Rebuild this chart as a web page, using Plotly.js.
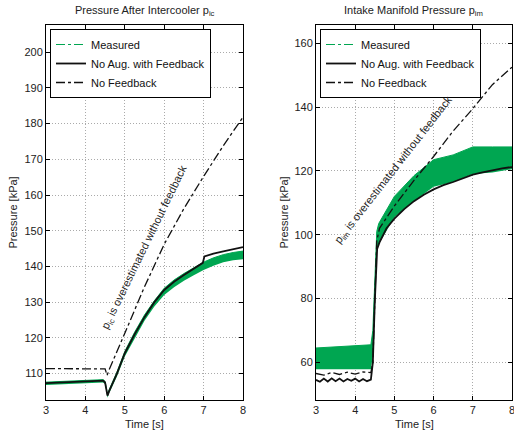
<!DOCTYPE html>
<html><head><meta charset="utf-8">
<script src="https://cdn.plot.ly/plotly-3.0.1.min.js"></script>
<style>html,body{margin:0;padding:0;background:#fff}#chart{width:514px;height:435px}</style>
</head><body><div id="chart"></div>
<script>
// ---- Left panel: pressure after intercooler p_ic [kPa] ----
const icMeasTime = [3, 3.5, 4, 4.45, 4.5, 4.53, 4.56, 4.6, 4.7, 4.8, 5, 5.25, 5.5, 5.75, 6, 6.25, 6.5, 6.75, 7, 7.25, 7.5, 7.75, 8];
const icMeasLow  = [106.8, 107.1, 107.3, 107.5, 107.0, 105.0, 103.2, 104.4, 106.8, 109.2, 114.8, 120.0, 124.8, 128.8, 132.0, 134.2, 136.0, 137.5, 139.0, 140.2, 141.2, 141.7, 142.0];
const icMeasHigh = [107.6, 107.9, 108.1, 108.3, 107.8, 105.8, 104.2, 105.4, 107.8, 110.4, 116.2, 121.6, 126.4, 130.4, 133.9, 136.2, 138.0, 139.6, 141.2, 142.4, 143.3, 143.9, 144.3];

const icFbTime = [3, 3.5, 4, 4.45, 4.5, 4.53, 4.56, 4.6, 4.7, 4.8, 5, 5.25, 5.5, 5.75, 6, 6.25, 6.5, 6.75, 6.98, 7.02, 7.25, 7.5, 7.75, 8];
const icFb     = [107.3, 107.6, 107.8, 108.0, 107.5, 105.5, 103.8, 105.0, 107.5, 110.0, 115.7, 121.0, 125.8, 130.0, 133.4, 135.7, 137.6, 139.4, 141.0, 142.8, 143.6, 144.2, 144.8, 145.4];

const icNfTime = [3, 4.5, 4.55, 4.6, 5, 5.5, 6, 6.5, 7, 7.5, 8];
const icNf     = [111.4, 111.3, 109.5, 111.0, 121.3, 134.3, 146.2, 156.2, 165.2, 173.8, 181.8];

// ---- Right panel: intake manifold pressure p_im [kPa] ----
const imMeasTime = [3, 4.4, 4.45, 4.5, 4.55, 4.6, 5, 5.5, 6, 6.5, 7, 7.5, 8];
const imMeasLow  = [57.8, 57.8, 62, 80, 95, 97, 105.5, 110.5, 115, 116.5, 119, 119.5, 120.5];
const imMeasHigh = [64.5, 65.5, 70, 86, 101, 103.5, 112, 118.5, 123.5, 125, 127.5, 127.5, 127.5];

const imFbTime = [3, 3.1, 3.2, 3.3, 3.4, 3.5, 3.6, 3.7, 3.8, 3.9, 4.0, 4.1, 4.2, 4.3, 4.4, 4.45, 4.5, 4.56, 4.62, 4.8, 5, 5.25, 5.5, 5.75, 6, 6.25, 6.5, 6.75, 7, 7.25, 7.5, 7.75, 8];
const imFb     = [54.5, 53.9, 54.9, 54.0, 55.0, 54.1, 54.9, 54.0, 54.8, 54.2, 54.9, 54.0, 54.8, 54.1, 54.6, 60, 79, 95.5, 97.6, 102, 105, 108, 110.5, 112.5, 114.2, 115.5, 116.5, 117.7, 118.8, 119.5, 120.2, 120.8, 121.2];

const imNfTime = [3, 3.2, 3.4, 3.6, 3.8, 4.0, 4.2, 4.4, 4.45, 4.5, 4.55, 4.62, 5, 5.5, 6, 6.5, 7, 7.5, 8];
const imNf     = [56.5, 56.0, 56.8, 56.2, 56.9, 56.3, 57.0, 56.8, 60, 80, 98, 102, 109, 117, 124.5, 132.5, 139.5, 147, 152.5];

const xTicks = [3, 4, 5, 6, 7, 8];
const icTicks = [110, 120, 130, 140, 150, 160, 170, 180, 190, 200];
const imTicks = [60, 80, 100, 120, 140, 160];

const seriesNames = ['Measured', 'No Aug. with Feedback', 'No Feedback'];
const GREEN = 'rgb(0,166,81)';
const FONT = 'Liberation Sans, Arial, Helvetica, sans-serif';

function panel(xa, ya, lg, mt, lo, hi, ft, fb, nt, nf) {
  return [
    {x: mt, y: lo, xaxis: xa, yaxis: ya, mode: 'lines', line: {width: 0, color: GREEN}, showlegend: false, hoverinfo: 'skip'},
    {x: mt, y: hi, xaxis: xa, yaxis: ya, mode: 'lines', line: {width: 1, color: GREEN}, fill: 'tonexty', fillcolor: GREEN, showlegend: false, hoverinfo: 'skip'},
    {x: [null], y: [null], xaxis: xa, yaxis: ya, mode: 'lines', name: seriesNames[0], legend: lg, line: {color: GREEN, width: 1, dash: 'dashdot'}},
    {x: ft, y: fb, xaxis: xa, yaxis: ya, mode: 'lines', name: seriesNames[1], legend: lg, line: {color: '#111', width: 1.8}},
    {x: nt, y: nf, xaxis: xa, yaxis: ya, mode: 'lines', name: seriesNames[2], legend: lg, line: {color: '#111', width: 1.3, dash: 'dashdot'}}
  ];
}

const data = [].concat(
  panel('x', 'y', 'legend', icMeasTime, icMeasLow, icMeasHigh, icFbTime, icFb, icNfTime, icNf),
  panel('x2', 'y2', 'legend2', imMeasTime, imMeasLow, imMeasHigh, imFbTime, imFb, imNfTime, imNf)
);

const axBase = {
  ticks: 'inside', ticklen: 4, tickcolor: '#000', showline: true, mirror: 'ticks',
  linecolor: '#000', linewidth: 1, showgrid: true, gridcolor: '#aaa', griddash: '1px,2px',
  gridwidth: 1, zeroline: false, tickfont: {size: 11, color: '#222', family: FONT},
  ticklabeloverflow: 'allow'
};
const yDom = [1 - 400/435, 1 - 25/435];

const legBase = {
  xanchor: 'left', yanchor: 'top', bordercolor: '#000', borderwidth: 1, bgcolor: '#fff',
  font: {size: 11, color: '#111', family: FONT}, tracegroupgap: 0, traceorder: 'normal'
};

const annFont = {size: 11, color: '#222', family: FONT};
const ann = (o) => Object.assign({showarrow: false, font: annFont, xanchor: 'center', yanchor: 'middle'}, o);
const layout = {
  width: 514, height: 435,
  margin: {l: 0, r: 0, t: 0, b: 0},
  paper_bgcolor: '#fff', plot_bgcolor: '#fff',
  font: {family: FONT, size: 11, color: '#222'},
  xaxis: Object.assign({}, axBase, {domain: [46/514, 243/514], range: [3, 8], tickvals: xTicks, anchor: 'y'}),
  yaxis: Object.assign({}, axBase, {domain: yDom, range: [102.6, 207.6], tickvals: icTicks, anchor: 'x'}),
  xaxis2: Object.assign({}, axBase, {domain: [316/514, 512/514], range: [3, 8], tickvals: xTicks, anchor: 'y2'}),
  yaxis2: Object.assign({}, axBase, {domain: yDom, range: [48.2, 165.7], tickvals: imTicks, anchor: 'x2'}),
  legend: Object.assign({}, legBase, {x: 50/514, y: 1 - 29/435}),
  legend2: Object.assign({}, legBase, {x: 320/514, y: 1 - 29/435}),
  annotations: [
    ann({text: 'Pressure After Intercooler p<sub>ic</sub>', xref: 'paper', yref: 'paper', x: 145/514, y: 1 - 11/435}),
    ann({text: 'Intake Manifold Pressure p<sub>im</sub>', xref: 'paper', yref: 'paper', x: 413/514, y: 1 - 11/435}),
    ann({text: 'Time [s]', xref: 'paper', yref: 'paper', x: 144.5/514, y: 1 - 424/435}),
    ann({text: 'Time [s]', xref: 'paper', yref: 'paper', x: 414/514, y: 1 - 424/435}),
    ann({text: 'Pressure [kPa]', xref: 'paper', yref: 'paper', x: 12/514, y: 1 - 212.5/435, textangle: -90}),
    ann({text: 'Pressure [kPa]', xref: 'paper', yref: 'paper', x: 283/514, y: 1 - 212.5/435, textangle: -90}),
    ann({text: 'p<sub>ic</sub> is overestimated without feedback', xref: 'x', yref: 'y', x: 5.49, y: 145.3, textangle: -64}),
    ann({text: 'p<sub>im</sub> is overestimated without feedback', xref: 'x2', yref: 'y2', x: 4.985, y: 120.3, textangle: -52})
  ]
};

Plotly.newPlot('chart', data, layout, {displayModeBar: false, staticPlot: true});
</script>
</body></html>
